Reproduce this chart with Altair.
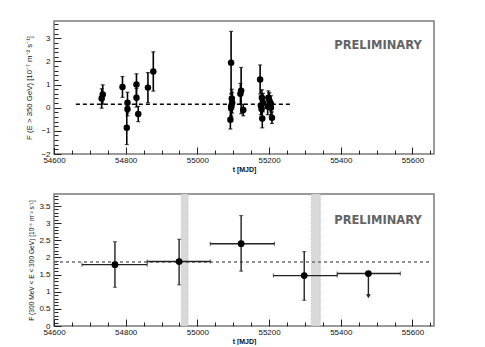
import altair as alt
import pandas as pd

# ---------------- data ----------------
# upper panel: nightly fluxes F(E > 350 GeV)
top_t = [54733, 54736, 54791, 54805, 54805, 54803, 54830, 54830, 54835, 54862, 54877,
         55094, 55092, 55095, 55097, 55094, 55096, 55122, 55120, 55128,
         55175, 55177, 55179, 55181, 55183, 55180, 55198, 55201, 55205, 55205, 55208, 55196]
top_f = [0.40, 0.57, 0.90, 0.22, -0.05, -0.87, 1.00, 0.43, -0.27, 0.87, 1.57,
         1.95, -0.52, 0.10, 0.22, 0.00, 0.40, 0.74, 0.60, -0.10,
         1.22, 0.10, -0.05, -0.47, 0.22, 0.43, 0.43, 0.30, 0.17, 0.00, -0.43, 0.05]
top_err = [0.42, 0.42, 0.45, 0.45, 0.30, 0.72, 0.47, 0.40, 0.33, 0.65, 0.85,
           1.35, 0.40, 0.50, 0.45, 0.35, 0.40, 1.00, 0.45, 0.25,
           0.63, 0.40, 0.35, 0.40, 0.40, 0.35, 0.30, 0.35, 0.35, 0.30, 0.25, 0.35]
top_mean = [0.15]
top_mean_t0 = [54661]
top_mean_t1 = [55259]

# lower panel: binned fluxes F(300 MeV < E < 300 GeV)
bot_t = [54770, 54949, 55122, 55298, 55477]
bot_t0 = [54678, 54860, 55036, 55212, 55390]
bot_t1 = [54860, 55036, 55215, 55390, 55566]
bot_f = [1.79, 1.88, 2.40, 1.47, 1.53]
bot_lo = [1.13, 1.20, 1.60, 0.75, 0.87]
bot_hi = [2.46, 2.53, 3.22, 2.17, 1.53]
bot_ul = [False, False, False, False, True]
bot_mean = [1.87]
bot_mean_t0 = [54600]
bot_mean_t1 = [55647]
gap_t0 = [54955, 55318]
gap_t1 = [54974, 55343]

# axis ticks
x_major = [54600, 54800, 55000, 55200, 55400, 55600]
x_ticks = list(range(54600, 55661, 50))
top_y_major = [-2, -1, 0, 1, 2, 3]
top_y_ticks = [round(-2 + 0.2 * i, 1) for i in range(29)]
bot_y_major = [0, 0.5, 1, 1.5, 2, 2.5, 3, 3.5]
bot_y_ticks = [round(0.1 * i, 1) for i in range(39)]

W, H1, H2 = 380, 133, 132
FONT = "Liberation Sans"

xs = alt.Scale(domain=[54600, 55660], nice=False, zero=False)
ys_top = alt.Scale(domain=[-2, 3.75], nice=False, zero=False)
ys_bot = alt.Scale(domain=[0, 3.85], nice=False, zero=False)


def label_x_axis():
    return alt.Axis(values=x_major, format="d", ticks=False, domain=False, grid=False,
                    labelFlush=False, labelOverlap=False,
                    labelPadding=2, labelFontSize=8, labelFont=FONT, labelColor="#111",
                    title="t [MJD]", titleFont=FONT, titleFontSize=7, titleFontWeight="bold",
                    titlePadding=1, titleColor="#111")


def tick_x_axis(h):
    return alt.Axis(orient="top", offset=-h, values=x_ticks, labels=False, domain=False,
                    grid=False, title=None, tickColor="#222", tickWidth=1,
                    tickSize={"condition": {"test": "datum.value % 200 === 0", "value": 7},
                              "value": 4})


def label_y_axis(values, title, fmt, tsize, tpad):
    return alt.Axis(values=values, format=fmt, ticks=False, domain=False, grid=False,
                    labelFlush=False, labelOverlap=False,
                    labelPadding=4, labelFontSize=8, labelFont=FONT, labelColor="#111",
                    title=title, titleFont=FONT, titleFontSize=tsize, titleFontWeight="normal",
                    titlePadding=tpad, titleColor="#111")


def tick_y_axis(values, test):
    return alt.Axis(orient="right", offset=-W, values=values, labels=False, domain=False,
                    grid=False, title=None, tickColor="#222", tickWidth=1,
                    tickSize={"condition": {"test": test, "value": 7}, "value": 4})


# ---------------- upper panel ----------------
df_top = pd.DataFrame({"t": top_t, "f": top_f, "err": top_err})
base_top = alt.Chart(df_top).transform_calculate(
    lo="datum.f - datum.err", hi="datum.f + datum.err")

top_bars = base_top.mark_rule(color="black", strokeWidth=1.6).encode(
    x=alt.X("t:Q", scale=xs, axis=label_x_axis()),
    y=alt.Y("lo:Q", scale=ys_top,
            axis=label_y_axis(top_y_major, "F (E > 350 GeV) [10⁻⁷ m⁻² s⁻¹]", "d", 7.8, 7)),
    y2="hi:Q")
top_cap_lo = base_top.mark_tick(orient="horizontal", size=4, thickness=1.2, color="black").encode(
    x=alt.X("t:Q", scale=xs, axis=None), y=alt.Y("lo:Q", scale=ys_top, axis=None))
top_cap_hi = base_top.mark_tick(orient="horizontal", size=4, thickness=1.2, color="black").encode(
    x=alt.X("t:Q", scale=xs, axis=None), y=alt.Y("hi:Q", scale=ys_top, axis=None))
top_pts = base_top.mark_circle(size=42, color="black", opacity=1).encode(
    x=alt.X("t:Q", scale=xs, axis=tick_x_axis(H1)),
    y=alt.Y("f:Q", scale=ys_top,
            axis=tick_y_axis(top_y_ticks, "abs(datum.value - round(datum.value)) < 0.001")))
top_line = alt.Chart(pd.DataFrame({"t0": top_mean_t0, "t1": top_mean_t1, "f": top_mean})).mark_rule(
    color="black", strokeWidth=1.5, strokeDash=[4, 3]).encode(
    x=alt.X("t0:Q", scale=xs, axis=None), x2="t1:Q",
    y=alt.Y("f:Q", scale=ys_top, axis=None))
top_text = alt.Chart(pd.DataFrame({"s": ["PRELIMINARY"]})).mark_text(
    font="DejaVu Sans", fontWeight="bold", fontSize=11.5, color="#646464",
    align="center", baseline="middle").encode(
    text="s:N", x=alt.value(324), y=alt.value(25))

top = alt.layer(top_line, top_bars, top_cap_lo, top_cap_hi, top_pts, top_text).resolve_axis(
    x="independent", y="independent").properties(width=W, height=H1)

# ---------------- lower panel ----------------
df_bot = pd.DataFrame({"t": bot_t, "t0": bot_t0, "t1": bot_t1, "f": bot_f,
                       "lo": bot_lo, "hi": bot_hi, "ul": bot_ul})
base_bot = alt.Chart(df_bot)
df_caps = base_bot.transform_filter("!datum.ul")
df_ul = base_bot.transform_filter("datum.ul")

gaps = alt.Chart(pd.DataFrame({"t0": gap_t0, "t1": gap_t1})).mark_rect(
    fill="#d9d9d9", stroke="#b0b0b0", strokeWidth=0.6, strokeDash=[1, 1]).encode(
    x=alt.X("t0:Q", scale=xs, axis=None), x2="t1:Q")
bot_line = alt.Chart(pd.DataFrame({"t0": bot_mean_t0, "t1": bot_mean_t1, "f": bot_mean})).mark_rule(
    color="#6e6e6e", strokeWidth=1.5, strokeDash=[3, 3]).encode(
    x=alt.X("t0:Q", scale=xs, axis=None), x2="t1:Q",
    y=alt.Y("f:Q", scale=ys_bot, axis=None))
bot_h = base_bot.mark_rule(color="#222", strokeWidth=1.4).encode(
    x=alt.X("t0:Q", scale=xs, axis=label_x_axis()), x2="t1:Q",
    y=alt.Y("f:Q", scale=ys_bot,
            axis=label_y_axis(bot_y_major, "F (300 MeV < E < 300 GeV) [10⁻⁶ m⁻² s⁻¹]", "~g", 6.6, 4)))
bot_hcap0 = base_bot.mark_tick(orient="vertical", size=4, thickness=1.1, color="#222").encode(
    x=alt.X("t0:Q", scale=xs, axis=None), y=alt.Y("f:Q", scale=ys_bot, axis=None))
bot_hcap1 = base_bot.mark_tick(orient="vertical", size=4, thickness=1.1, color="#222").encode(
    x=alt.X("t1:Q", scale=xs, axis=None), y=alt.Y("f:Q", scale=ys_bot, axis=None))
bot_v = base_bot.mark_rule(color="#222", strokeWidth=1.4).encode(
    x=alt.X("t:Q", scale=xs, axis=None),
    y=alt.Y("lo:Q", scale=ys_bot, axis=None), y2="hi:Q")
bot_vcap_lo = df_caps.mark_tick(orient="horizontal", size=4, thickness=1.1, color="#222").encode(
    x=alt.X("t:Q", scale=xs, axis=None), y=alt.Y("lo:Q", scale=ys_bot, axis=None))
bot_vcap_hi = df_caps.mark_tick(orient="horizontal", size=4, thickness=1.1, color="#222").encode(
    x=alt.X("t:Q", scale=xs, axis=None), y=alt.Y("hi:Q", scale=ys_bot, axis=None))
bot_arrow = df_ul.mark_point(shape="triangle-down", filled=True, size=22, color="#222", opacity=1).encode(
    x=alt.X("t:Q", scale=xs, axis=None), y=alt.Y("lo:Q", scale=ys_bot, axis=None))
bot_pts = base_bot.mark_circle(size=46, color="black", opacity=1).encode(
    x=alt.X("t:Q", scale=xs, axis=tick_x_axis(H2)),
    y=alt.Y("f:Q", scale=ys_bot,
            axis=tick_y_axis(bot_y_ticks, "abs(datum.value * 2 - round(datum.value * 2)) < 0.001")))
bot_text = alt.Chart(pd.DataFrame({"s": ["PRELIMINARY"]})).mark_text(
    font="DejaVu Sans", fontWeight="bold", fontSize=11.5, color="#646464",
    align="center", baseline="middle").encode(
    text="s:N", x=alt.value(324), y=alt.value(27))

bottom = alt.layer(gaps, bot_line, bot_h, bot_hcap0, bot_hcap1, bot_v, bot_vcap_lo, bot_vcap_hi,
                   bot_arrow, bot_pts, bot_text).resolve_axis(
    x="independent", y="independent").properties(width=W, height=H2)

chart = alt.vconcat(top, bottom, spacing=40, bounds="flush").properties(
    padding={"left": 17, "top": 12, "right": 0, "bottom": 0},
    background="white"
).configure_view(stroke="#7a7a7a", strokeWidth=1.5)

chart.save("out.html", embed_options={"renderer": "svg", "actions": False})
